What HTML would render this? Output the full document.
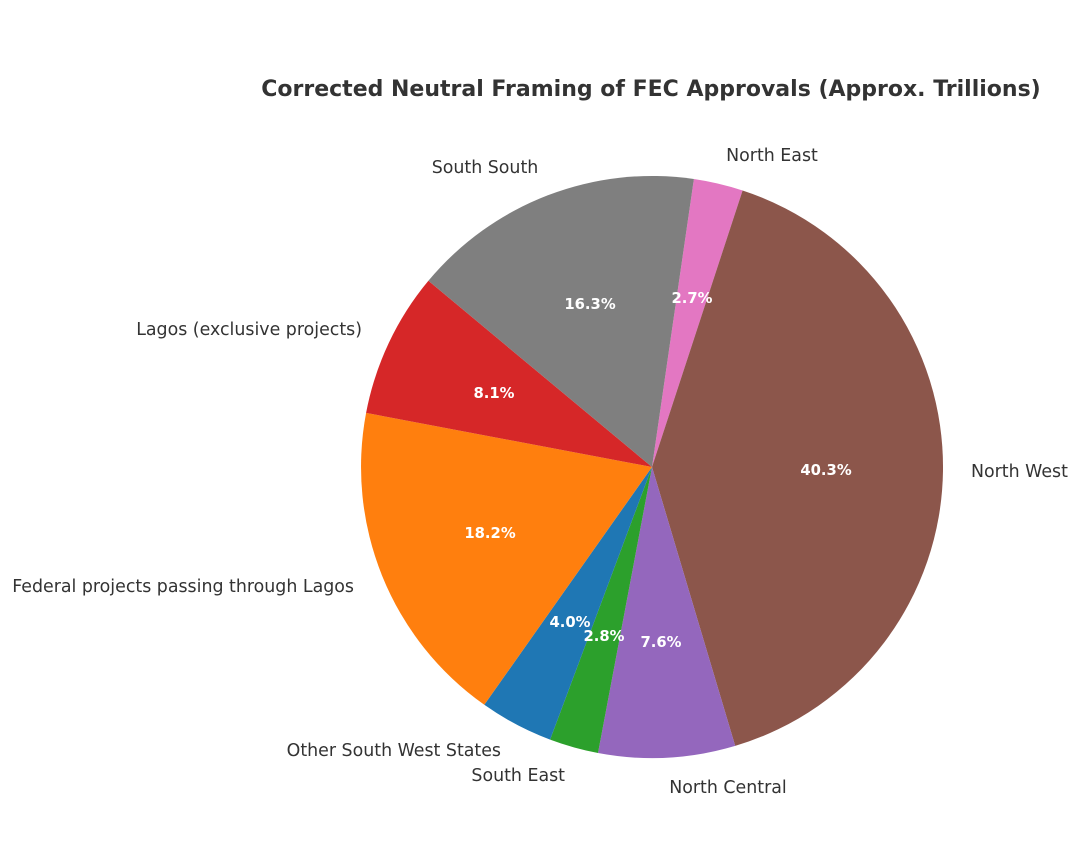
<!DOCTYPE html>
<html><head><meta charset="utf-8"><style>
html,body{margin:0;padding:0;background:#fff;}
svg{display:block;}
text{font-family:"DejaVu Sans","Liberation Sans",sans-serif;}
</style></head><body>
<svg width="1080" height="858" viewBox="0 0 1080 858" xmlns="http://www.w3.org/2000/svg">
<rect width="1080" height="858" fill="#fff"/>
<text x="651" y="96" text-anchor="middle" font-size="22" font-weight="bold" fill="#333">Corrected Neutral Framing of FEC Approvals (Approx. Trillions)</text>
<g stroke="none">
<path d="M652,467 L693.9,179.0 A291,291 0 0 1 742.6,190.5 Z" fill="#e377c2"/>
<path d="M652,467 L742.6,190.5 A291,291 0 0 1 735.2,745.9 Z" fill="#8c564b"/>
<path d="M652,467 L735.2,745.9 A291,291 0 0 1 598.0,753.0 Z" fill="#9467bd"/>
<path d="M652,467 L598.0,753.0 A291,291 0 0 1 550.1,739.6 Z" fill="#2ca02c"/>
<path d="M652,467 L550.1,739.6 A291,291 0 0 1 484.3,704.8 Z" fill="#1f77b4"/>
<path d="M652,467 L484.3,704.8 A291,291 0 0 1 366.1,412.9 Z" fill="#ff7f0e"/>
<path d="M652,467 L366.1,412.9 A291,291 0 0 1 428.4,280.8 Z" fill="#d62728"/>
<path d="M652,467 L428.4,280.8 A291,291 0 0 1 693.9,179.0 Z" fill="#7f7f7f"/>
</g>
<g font-size="14.8" font-weight="bold" fill="#fff" text-anchor="middle">
<text x="590" y="309">16.3%</text>
<text x="692" y="303">2.7%</text>
<text x="494" y="398">8.1%</text>
<text x="826" y="475">40.3%</text>
<text x="490" y="538">18.2%</text>
<text x="570" y="627">4.0%</text>
<text x="604" y="641">2.8%</text>
<text x="661" y="647">7.6%</text>
</g>
<g font-size="17.4" fill="#333">
<text x="485" y="173" text-anchor="middle">South South</text>
<text x="772" y="161" text-anchor="middle">North East</text>
<text x="362" y="335" text-anchor="end">Lagos (exclusive projects)</text>
<text x="971" y="477" text-anchor="start">North West</text>
<text x="354" y="592" text-anchor="end">Federal projects passing through Lagos</text>
<text x="501" y="756" text-anchor="end">Other South West States</text>
<text x="565" y="781" text-anchor="end">South East</text>
<text x="728" y="793" text-anchor="middle">North Central</text>
</g>
</svg>
</body></html>
